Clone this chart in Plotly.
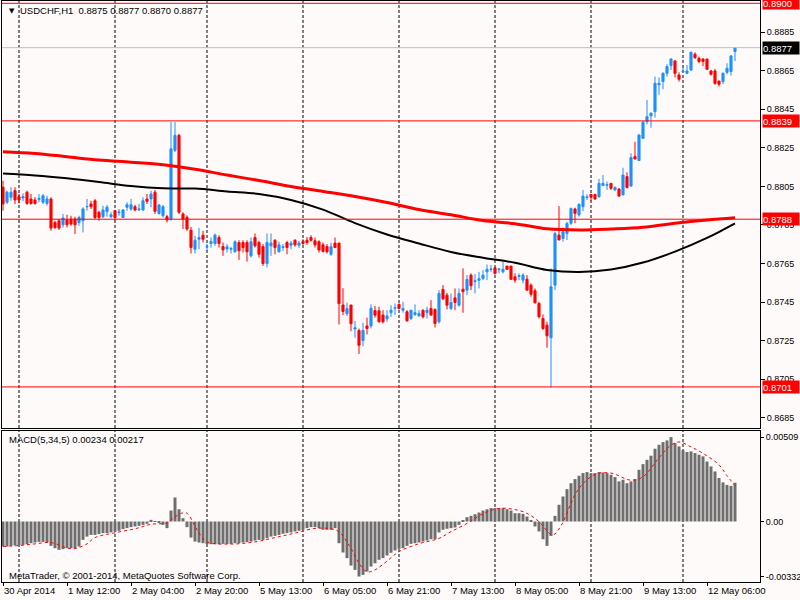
""" USDCHF H1 candles with MA lines and MACD(5,34,5), MetaTrader style.

"""
import plotly.graph_objects as go
from plotly.subplots import make_subplots

# Candles, one per hour (bar index 0 = 30 Apr 20:00)
opens = [
    0.88046, 0.87968, 0.87994, 0.88028, 0.87997, 0.87990, 0.88020, 0.87985, 0.87980, 0.87983,
    0.87968, 0.87962, 0.87985, 0.87863, 0.87872, 0.87851, 0.87876, 0.87881, 0.87881, 0.87863,
    0.87872, 0.87944, 0.87959, 0.87976, 0.87916, 0.87893, 0.87919, 0.87893, 0.87924, 0.87914,
    0.87889, 0.87942, 0.87933, 0.87945, 0.87928, 0.87928, 0.87985, 0.87985, 0.88020, 0.87910,
    0.87898, 0.87893, 0.87881, 0.88237, 0.88315, 0.87907, 0.87890, 0.87823, 0.87724, 0.87776,
    0.87797, 0.87737, 0.87754, 0.87754, 0.87785, 0.87738, 0.87726, 0.87724, 0.87711, 0.87759,
    0.87759, 0.87759, 0.87690, 0.87785, 0.87759, 0.87738, 0.87650, 0.87742, 0.87771, 0.87711,
    0.87733, 0.87759, 0.87745, 0.87771, 0.87745, 0.87764, 0.87771, 0.87785, 0.87768, 0.87763,
    0.87747, 0.87738, 0.87698, 0.87756, 0.87756, 0.87435, 0.87390, 0.87435, 0.87310, 0.87303,
    0.87251, 0.87326, 0.87326, 0.87406, 0.87405, 0.87383, 0.87363, 0.87395, 0.87418, 0.87438,
    0.87408, 0.87400, 0.87365, 0.87386, 0.87379, 0.87408, 0.87395, 0.87417, 0.87412, 0.87348,
    0.87516, 0.87486, 0.87417, 0.87472, 0.87434, 0.87517, 0.87512, 0.87590, 0.87557, 0.87563,
    0.87573, 0.87607, 0.87619, 0.87628, 0.87619, 0.87607, 0.87637, 0.87637, 0.87581, 0.87583,
    0.87564, 0.87569, 0.87538, 0.87509, 0.87443, 0.87365, 0.87330, 0.87265, 0.87538, 0.87798,
    0.87780, 0.87806, 0.87859, 0.87933, 0.87902, 0.87945, 0.87992, 0.88009, 0.88009, 0.87997,
    0.88054, 0.88056, 0.88066, 0.88032, 0.88037, 0.88006, 0.88101, 0.88052, 0.88205, 0.88184,
    0.88300, 0.88386, 0.88416, 0.88438, 0.88577, 0.88594, 0.88637, 0.88677, 0.88701, 0.88628,
    0.88644, 0.88637, 0.88654, 0.88736, 0.88715, 0.88711, 0.88711, 0.88649, 0.88649, 0.88597,
    0.88594, 0.88642, 0.88646, 0.88750]
highs = [
    0.88080, 0.88028, 0.88046, 0.88046, 0.88011, 0.88014, 0.88028, 0.88011, 0.87994, 0.88011,
    0.88011, 0.88002, 0.87994, 0.87872, 0.87880, 0.87907, 0.87903, 0.87898, 0.87893, 0.87898,
    0.87942, 0.87985, 0.87976, 0.87985, 0.87924, 0.87950, 0.87954, 0.87916, 0.87928, 0.87933,
    0.87933, 0.87968, 0.87985, 0.87955, 0.87959, 0.87994, 0.88011, 0.88028, 0.88032, 0.87959,
    0.87954, 0.87903, 0.88384, 0.88384, 0.88323, 0.87916, 0.87900, 0.87840, 0.87794, 0.87834,
    0.87820, 0.87751, 0.87785, 0.87806, 0.87797, 0.87759, 0.87751, 0.87737, 0.87771, 0.87771,
    0.87771, 0.87771, 0.87785, 0.87806, 0.87768, 0.87751, 0.87806, 0.87806, 0.87776, 0.87764,
    0.87751, 0.87768, 0.87768, 0.87776, 0.87768, 0.87776, 0.87788, 0.87797, 0.87785, 0.87771,
    0.87759, 0.87751, 0.87759, 0.87785, 0.87759, 0.87522, 0.87447, 0.87435, 0.87352, 0.87313,
    0.87343, 0.87369, 0.87439, 0.87430, 0.87426, 0.87408, 0.87408, 0.87434, 0.87443, 0.87443,
    0.87452, 0.87408, 0.87408, 0.87438, 0.87408, 0.87412, 0.87426, 0.87460, 0.87417, 0.87512,
    0.87538, 0.87498, 0.87495, 0.87521, 0.87521, 0.87625, 0.87590, 0.87599, 0.87595, 0.87607,
    0.87616, 0.87645, 0.87642, 0.87633, 0.87625, 0.87659, 0.87637, 0.87637, 0.87599, 0.87599,
    0.87599, 0.87590, 0.87547, 0.87521, 0.87452, 0.87386, 0.87348, 0.87625, 0.87815, 0.87948,
    0.87837, 0.87867, 0.87940, 0.87940, 0.87962, 0.88032, 0.88009, 0.88009, 0.88009, 0.88089,
    0.88109, 0.88075, 0.88066, 0.88049, 0.88040, 0.88147, 0.88123, 0.88222, 0.88282, 0.88320,
    0.88390, 0.88499, 0.88435, 0.88620, 0.88615, 0.88642, 0.88684, 0.88715, 0.88706, 0.88642,
    0.88672, 0.88680, 0.88750, 0.88746, 0.88724, 0.88715, 0.88711, 0.88654, 0.88660, 0.88597,
    0.88642, 0.88689, 0.88732, 0.88770]
lows = [
    0.87924, 0.87959, 0.87976, 0.87959, 0.87962, 0.87973, 0.87955, 0.87955, 0.87955, 0.87968,
    0.87959, 0.87950, 0.87820, 0.87829, 0.87825, 0.87837, 0.87837, 0.87846, 0.87803, 0.87846,
    0.87811, 0.87924, 0.87933, 0.87881, 0.87872, 0.87886, 0.87893, 0.87886, 0.87872, 0.87898,
    0.87886, 0.87924, 0.87924, 0.87921, 0.87924, 0.87924, 0.87959, 0.87942, 0.87907, 0.87903,
    0.87889, 0.87863, 0.87872, 0.88228, 0.87907, 0.87829, 0.87820, 0.87702, 0.87702, 0.87724,
    0.87759, 0.87713, 0.87733, 0.87742, 0.87733, 0.87690, 0.87707, 0.87702, 0.87707, 0.87669,
    0.87707, 0.87660, 0.87681, 0.87733, 0.87681, 0.87638, 0.87630, 0.87690, 0.87698, 0.87707,
    0.87716, 0.87698, 0.87724, 0.87737, 0.87730, 0.87747, 0.87747, 0.87764, 0.87733, 0.87707,
    0.87707, 0.87702, 0.87690, 0.87730, 0.87334, 0.87383, 0.87378, 0.87299, 0.87265, 0.87181,
    0.87221, 0.87282, 0.87313, 0.87369, 0.87343, 0.87339, 0.87348, 0.87374, 0.87383, 0.87412,
    0.87395, 0.87348, 0.87357, 0.87378, 0.87374, 0.87365, 0.87365, 0.87378, 0.87318, 0.87339,
    0.87460, 0.87412, 0.87408, 0.87408, 0.87426, 0.87395, 0.87486, 0.87512, 0.87495, 0.87521,
    0.87564, 0.87564, 0.87607, 0.87593, 0.87599, 0.87599, 0.87616, 0.87564, 0.87550, 0.87564,
    0.87547, 0.87509, 0.87478, 0.87443, 0.87365, 0.87305, 0.87213, 0.87007, 0.87512, 0.87772,
    0.87763, 0.87772, 0.87850, 0.87859, 0.87893, 0.87922, 0.87980, 0.87974, 0.87980, 0.87992,
    0.88054, 0.88032, 0.88032, 0.88026, 0.87997, 0.88006, 0.88040, 0.88049, 0.88192, 0.88182,
    0.88296, 0.88372, 0.88355, 0.88407, 0.88525, 0.88554, 0.88620, 0.88654, 0.88615, 0.88594,
    0.88642, 0.88632, 0.88649, 0.88711, 0.88689, 0.88675, 0.88654, 0.88625, 0.88577, 0.88568,
    0.88580, 0.88632, 0.88625, 0.88700]
closes = [
    0.87959, 0.88020, 0.88020, 0.87980, 0.87980, 0.87997, 0.87962, 0.87962, 0.87962, 0.87988,
    0.88002, 0.87985, 0.87834, 0.87837, 0.87834, 0.87886, 0.87851, 0.87855, 0.87851, 0.87889,
    0.87933, 0.87946, 0.87945, 0.87889, 0.87889, 0.87928, 0.87942, 0.87903, 0.87889, 0.87917,
    0.87928, 0.87955, 0.87955, 0.87928, 0.87933, 0.87976, 0.87973, 0.88011, 0.87921, 0.87954,
    0.87945, 0.87876, 0.88245, 0.88315, 0.87916, 0.87881, 0.87829, 0.87733, 0.87771, 0.87785,
    0.87776, 0.87739, 0.87764, 0.87797, 0.87754, 0.87721, 0.87737, 0.87728, 0.87763, 0.87716,
    0.87733, 0.87711, 0.87763, 0.87742, 0.87698, 0.87650, 0.87759, 0.87756, 0.87733, 0.87747,
    0.87737, 0.87733, 0.87756, 0.87747, 0.87756, 0.87754, 0.87759, 0.87771, 0.87747, 0.87720,
    0.87713, 0.87711, 0.87737, 0.87733, 0.87442, 0.87401, 0.87416, 0.87338, 0.87317, 0.87226,
    0.87303, 0.87313, 0.87418, 0.87382, 0.87348, 0.87348, 0.87378, 0.87408, 0.87421, 0.87417,
    0.87417, 0.87353, 0.87408, 0.87395, 0.87391, 0.87374, 0.87408, 0.87383, 0.87339, 0.87495,
    0.87467, 0.87434, 0.87448, 0.87448, 0.87495, 0.87504, 0.87568, 0.87535, 0.87561, 0.87572,
    0.87590, 0.87620, 0.87622, 0.87599, 0.87622, 0.87620, 0.87620, 0.87568, 0.87564, 0.87587,
    0.87590, 0.87512, 0.87491, 0.87446, 0.87374, 0.87313, 0.87275, 0.87530, 0.87806, 0.87772,
    0.87815, 0.87858, 0.87936, 0.87910, 0.87957, 0.88000, 0.87995, 0.87995, 0.87985, 0.88066,
    0.88066, 0.88059, 0.88040, 0.88045, 0.88000, 0.88109, 0.88044, 0.88200, 0.88192, 0.88317,
    0.88383, 0.88412, 0.88430, 0.88585, 0.88585, 0.88637, 0.88672, 0.88711, 0.88637, 0.88606,
    0.88647, 0.88649, 0.88746, 0.88718, 0.88698, 0.88698, 0.88658, 0.88632, 0.88585, 0.88580,
    0.88637, 0.88663, 0.88727, 0.88770]
bars = list(range(len(opens)))

# Moving averages, read every 8 bars
ma_bars = [0, 8, 16, 24, 32, 40, 48, 56, 64, 72, 80, 88, 96, 104, 112, 120, 128, 136, 144, 152, 160, 168, 176, 183]
ma_red = [0.88230, 0.88221, 0.88204, 0.88187, 0.88176, 0.88163, 0.88139, 0.88109, 0.88081, 0.88050, 0.88024, 0.87998,
          0.87967, 0.87930, 0.87903, 0.87873, 0.87857, 0.87830, 0.87824, 0.87829, 0.87838, 0.87859, 0.87876, 0.87888]
ma_black = [0.88117, 0.88107, 0.88092, 0.88073, 0.88052, 0.88040, 0.88039, 0.88024, 0.88011, 0.87980, 0.87930, 0.87860,
            0.87801, 0.87754, 0.87710, 0.87680, 0.87654, 0.87617, 0.87606, 0.87619, 0.87655, 0.87712, 0.87783, 0.87859]

# MACD(5,34,5) main histogram, one value per bar
macd_main = [
    -0.00151, -0.00151, -0.00147, -0.00145, -0.00143, -0.00141, -0.00137, -0.00131, -0.00127, -0.00123,
    -0.00123, -0.00127, -0.00147, -0.00161, -0.00171, -0.00167, -0.00161, -0.00161, -0.00161, -0.00151,
    -0.00111, -0.00091, -0.00081, -0.00081, -0.00076, -0.00070, -0.00070, -0.00066, -0.00060, -0.00056,
    -0.00046, -0.00040, -0.00034, -0.00030, -0.00026, -0.00020, -0.00014, 0.00010, -0.00002, -0.00006,
    -0.00020, -0.00040, 0.00066, 0.00145, 0.00074, 0.00020, -0.00034, -0.00097, -0.00121, -0.00127,
    -0.00131, -0.00137, -0.00137, -0.00137, -0.00137, -0.00135, -0.00135, -0.00135, -0.00131, -0.00131,
    -0.00127, -0.00125, -0.00121, -0.00115, -0.00111, -0.00111, -0.00101, -0.00091, -0.00087, -0.00081,
    -0.00074, -0.00070, -0.00066, -0.00060, -0.00056, -0.00050, -0.00040, -0.00034, -0.00034, -0.00040,
    -0.00050, -0.00050, -0.00050, -0.00040, -0.00131, -0.00187, -0.00221, -0.00266, -0.00292, -0.00332,
    -0.00322, -0.00302, -0.00272, -0.00252, -0.00231, -0.00221, -0.00205, -0.00189, -0.00175, -0.00165,
    -0.00161, -0.00147, -0.00135, -0.00131, -0.00127, -0.00121, -0.00115, -0.00107, -0.00107, -0.00066,
    -0.00050, -0.00044, -0.00040, -0.00036, -0.00020, 0.00006, 0.00026, 0.00034, 0.00044, 0.00054,
    0.00066, 0.00074, 0.00081, 0.00081, 0.00081, 0.00081, 0.00074, 0.00066, 0.00050, 0.00050,
    0.00046, 0.00030, 0.00006, -0.00030, -0.00060, -0.00107, -0.00147, -0.00087, 0.00034, 0.00101,
    0.00151, 0.00195, 0.00231, 0.00256, 0.00276, 0.00292, 0.00298, 0.00292, 0.00292, 0.00298,
    0.00296, 0.00292, 0.00282, 0.00268, 0.00242, 0.00252, 0.00231, 0.00242, 0.00256, 0.00312,
    0.00346, 0.00372, 0.00397, 0.00439, 0.00463, 0.00479, 0.00489, 0.00509, 0.00473, 0.00453,
    0.00429, 0.00419, 0.00423, 0.00413, 0.00403, 0.00393, 0.00362, 0.00332, 0.00302, 0.00262,
    0.00236, 0.00221, 0.00215, 0.00234]
# MACD signal line, read at selected bars
sig_bars = [0, 4, 8, 12, 16, 18, 21, 23, 28, 33, 37, 41, 43, 45, 46, 48, 49, 51, 57, 63, 68, 73, 78, 82, 84, 87,
            89, 91, 93, 96, 99, 104, 109, 112, 116, 120, 124, 128, 131, 134, 137, 138, 139, 140, 142, 144, 148,
            152, 157, 160, 164, 167, 169, 172, 175, 179, 181, 183]
sig_vals = [-0.00151, -0.00145, -0.00135, -0.00127, -0.00160, -0.00163, -0.00135, -0.00097, -0.00068, -0.00044,
            -0.00017, -0.00008, 0.00028, 0.00052, 0.00050, -0.00028, -0.00070, -0.00123, -0.00136, -0.00123,
            -0.00097, -0.00070, -0.00042, -0.00044, -0.00062, -0.00162, -0.00252, -0.00303, -0.00292, -0.00239,
            -0.00182, -0.00134, -0.00102, -0.00061, -0.00012, 0.00047, 0.00079, 0.00072, 0.00049, -0.00001,
            -0.00078, -0.00075, -0.00045, -0.00005, 0.00110, 0.00200, 0.00284, 0.00292, 0.00249, 0.00270,
            0.00385, 0.00460, 0.00480, 0.00450, 0.00411, 0.00342, 0.00276, 0.00217]

# Axis labels
time_ticks = [0, 16, 32, 48, 64, 80, 96, 112, 128, 144, 160, 176]
time_labels = ['30 Apr 2014', '1 May 12:00', '2 May 04:00', '2 May 20:00', '5 May 13:00', '6 May 05:00',
               '6 May 21:00', '7 May 13:00', '8 May 05:00', '8 May 21:00', '9 May 13:00', '12 May 06:00']
day_breaks = [4, 28, 51, 75, 99, 123, 147, 170]
price_ticks = [0.8685, 0.8705, 0.8725, 0.8745, 0.8765, 0.8785, 0.8805, 0.8825, 0.8845, 0.8865, 0.8885]
red_levels = [0.8900, 0.8839, 0.8788, 0.8701]
bid_level = 0.8877
macd_ticks = [-0.00332, 0.0, 0.00509]
macd_ticktext = ['-0.00332', '0.00', '0.00509']

BG = '#FFFAFA'
BLUE = '#1E90FF'
RED = '#FF0000'
FONT = 'Liberation Sans, Arial, sans-serif'
FS = 9.5

fig = make_subplots(rows=2, cols=1, shared_xaxes=True, vertical_spacing=0.005)
fig.add_trace(go.Candlestick(
    x=bars, open=opens, high=highs, low=lows, close=closes, whiskerwidth=0,
    increasing=dict(line=dict(color=BLUE, width=1), fillcolor=BLUE),
    decreasing=dict(line=dict(color=RED, width=1), fillcolor=RED)), row=1, col=1)
fig.add_trace(go.Scatter(x=ma_bars, y=ma_red, mode='lines',
                         line=dict(color=RED, width=3, shape='spline')), row=1, col=1)
fig.add_trace(go.Scatter(x=ma_bars, y=ma_black, mode='lines',
                         line=dict(color='#000000', width=2, shape='spline')), row=1, col=1)
fig.add_trace(go.Bar(x=bars, y=macd_main, marker=dict(color='#6E6E6E', line=dict(width=0))), row=2, col=1)
fig.add_trace(go.Scatter(x=sig_bars, y=sig_vals, mode='lines',
                         line=dict(color=RED, width=1, dash='dot', shape='spline')), row=2, col=1)

# Day separators (dashed) in both panels
for d in day_breaks:
    for xr, yr in (('x', 'y domain'), ('x2', 'y2 domain')):
        fig.add_shape(type='line', xref=xr, yref=yr, x0=d, x1=d, y0=0, y1=1, layer='below',
                      line=dict(color='black', width=1, dash='3px,2px'))

# Horizontal price levels with their labels on the price scale
for lv in red_levels:
    fig.add_shape(type='line', xref='x domain', yref='y', x0=0, x1=1, y0=lv, y1=lv,
                  line=dict(color=RED, width=1))
    fig.add_annotation(xref='paper', yref='y', x=1, y=lv, xanchor='left', yanchor='middle', xshift=2,
                       showarrow=False, text='{:.4f}'.format(lv), bgcolor=RED, width=36, height=12,
                       align='left', borderpad=0, font=dict(color='white', size=FS, family=FONT))
fig.add_shape(type='line', xref='x domain', yref='y', x0=0, x1=1, y0=bid_level, y1=bid_level,
              line=dict(color='#C0C0C0', width=1))
fig.add_annotation(xref='paper', yref='y', x=1, y=bid_level, xanchor='left', yanchor='middle', xshift=2,
                   showarrow=False, text='{:.4f}'.format(bid_level), bgcolor='black', width=36, height=12,
                   align='left', borderpad=0, font=dict(color='white', size=FS, family=FONT))

# Texts
fig.add_annotation(xref='paper', yref='paper', x=0.0066, y=0.9828, yanchor='middle', showarrow=False,
                   text='\u25bc', font=dict(size=7, family='DejaVu Sans', color='black'))
fig.add_annotation(xref='paper', yref='paper', x=0.0211, y=0.9833, xanchor='left', yanchor='middle',
                   showarrow=False, text='USDCHF,H1\u00a0\u00a00.8875 0.8877 0.8870 0.8877',
                   font=dict(size=FS, family=FONT))
fig.add_annotation(xref='paper', yref='paper', x=0.0066, y=0.2453, xanchor='left', yanchor='middle',
                   showarrow=False, text='MACD(5,34,5) 0.00234 0.00217', font=dict(size=FS, family=FONT))
fig.add_annotation(xref='paper', yref='paper', x=0.0066, y=0.012, xanchor='left', yanchor='middle',
                   showarrow=False, text='MetaTrader, \u00a9 2001-2014, MetaQuotes Software Corp.',
                   font=dict(size=FS, family=FONT))

# Styling
axis_common = dict(showline=True, linecolor='black', linewidth=1, mirror=True, showgrid=False, zeroline=False,
                   automargin=False)
fig.update_xaxes(range=[-0.25, 189.25], **axis_common)
fig.update_xaxes(rangeslider_visible=False, showticklabels=False, ticks='', row=1, col=1)
fig.update_xaxes(tickvals=time_ticks, ticktext=time_labels, ticks='outside', ticklen=3, tickcolor='black',
                 tickangle=0, ticklabelposition='outside right', row=2, col=1)
fig.update_yaxes(tickfont=dict(size=9), **axis_common)
fig.update_layout(
    yaxis=dict(domain=[0.2651, 1], range=[0.86797, 0.89012], side='right', tickvals=price_ticks,
               tickformat='.4f', ticks='outside', ticklen=4, tickcolor='black'),
    yaxis2=dict(domain=[0, 0.2599], range=[-0.00365, 0.00546], side='right', tickvals=macd_ticks,
                ticktext=macd_ticktext, ticks='outside', ticklen=3, tickcolor='black'),
    width=800, height=600, margin=dict(l=2, r=40, t=1, b=18, autoexpand=False),
    paper_bgcolor=BG, plot_bgcolor=BG, showlegend=False, bargap=0.25, boxgap=0.25,
    font=dict(family=FONT, size=FS, color='black'))

# the page has a default body margin; drop it so the figure fills the window
fig.write_html('out.html', config={'displayModeBar': False},
               post_script="document.body.style.margin='0px';")
